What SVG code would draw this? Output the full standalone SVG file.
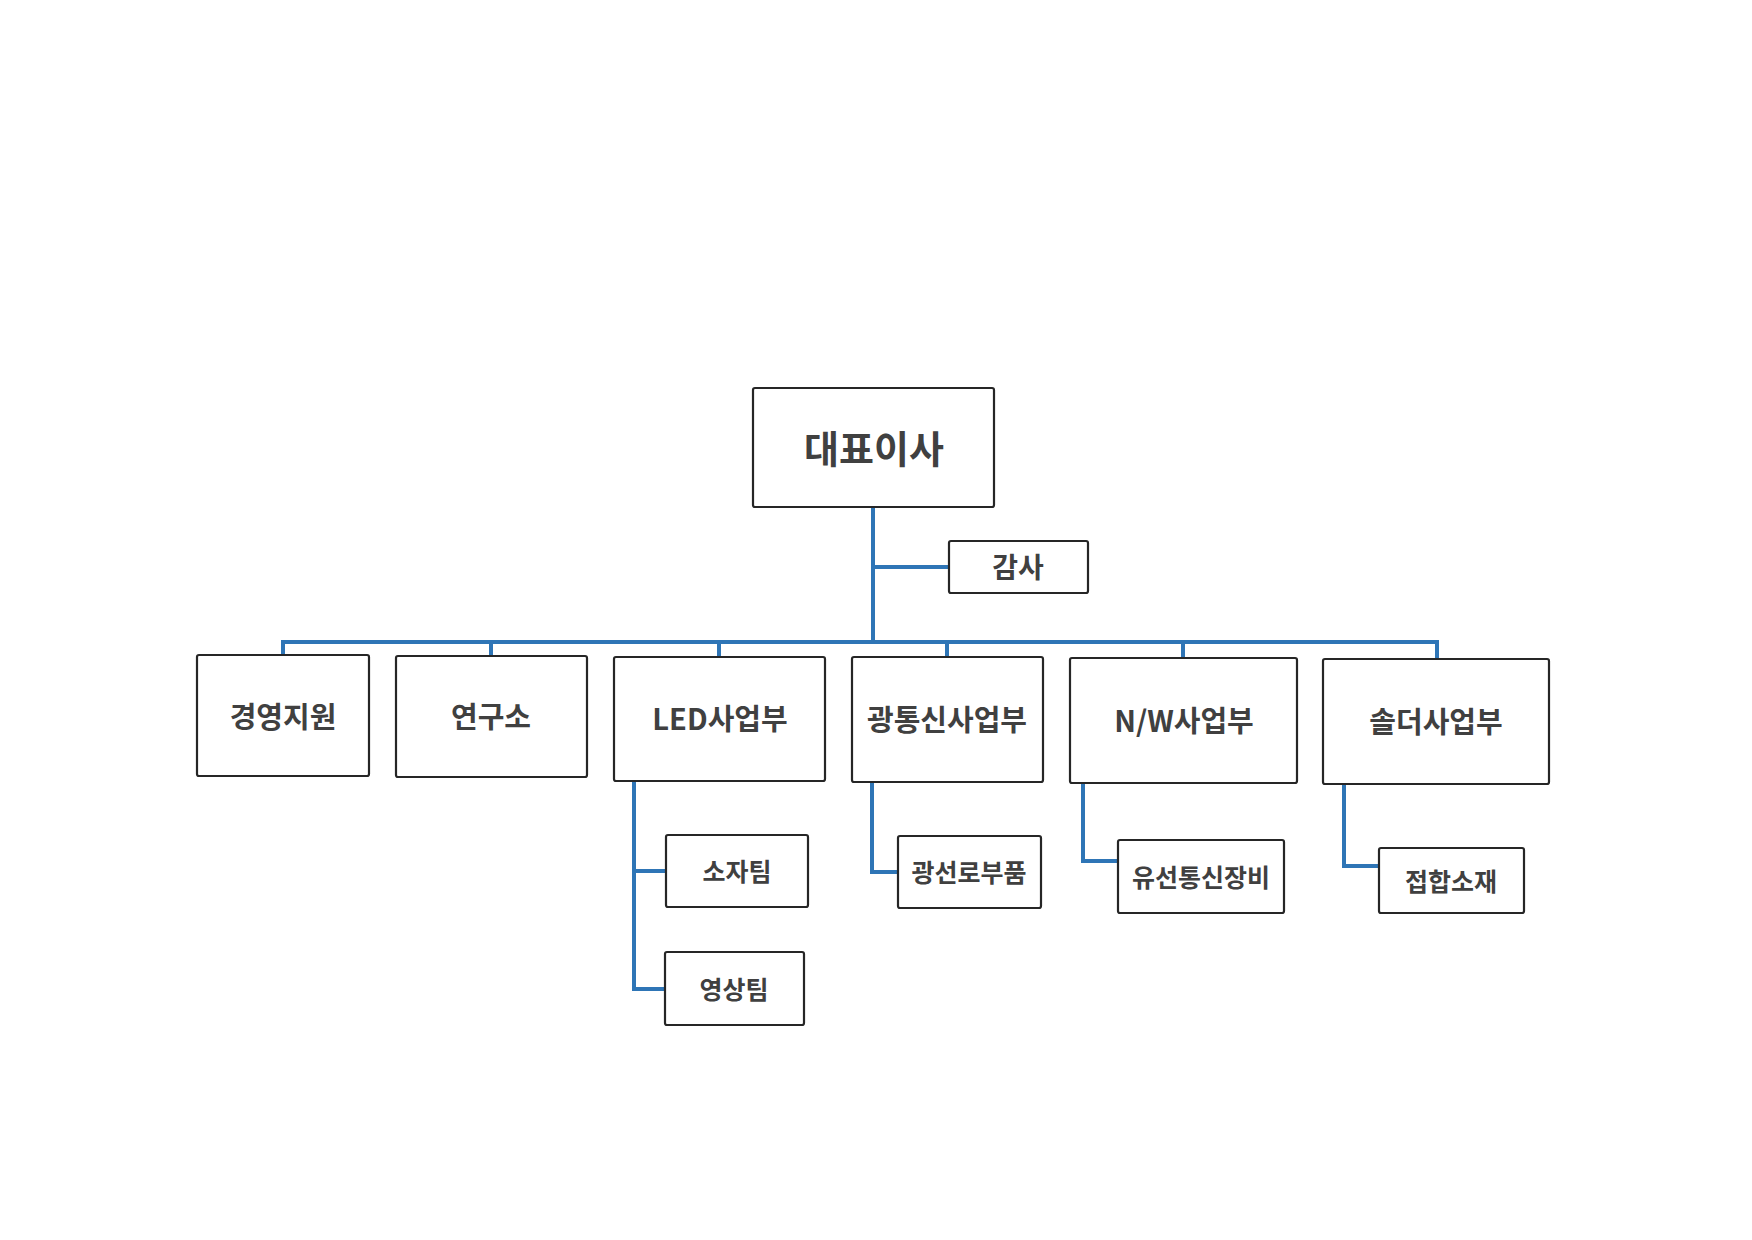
<svg xmlns="http://www.w3.org/2000/svg" width="1752" height="1240" viewBox="0 0 1752 1240">
<style>
.box{fill:#fff;stroke:#262626;stroke-width:2.2}
.t{font-family:"Noto Sans CJK KR","Noto Sans",sans-serif;font-weight:bold;fill:#404040;text-anchor:middle;dominant-baseline:central}
.c{fill:none;stroke:#2e75b6;stroke-width:4;stroke-linejoin:miter}
</style>
<rect width="1752" height="1240" fill="#fff"/>
<g id="connectors">
<path class="c" d="M873 507 V643"/>
<path class="c" d="M873 567 H949"/>
<path class="c" d="M283 656 V642 H1437 V659"/>
<path class="c" d="M491 642 V656"/>
<path class="c" d="M719 643 V657"/>
<path class="c" d="M947 643 V657"/>
<path class="c" d="M1183 644 V658"/>
<path class="c" d="M634 781 V989 H665"/>
<path class="c" d="M634 871 H666"/>
<path class="c" d="M872 782 V872 H898"/>
<path class="c" d="M1083 783 V861 H1118"/>
<path class="c" d="M1344 784 V866 H1379"/>
</g>
<g id="ceo"><rect class="box" x="753" y="388" width="241" height="119" rx="2"/><text class="t" x="874" y="446" font-size="38">대표이사</text></g>
<g id="audit"><rect class="box" x="949" y="541" width="139" height="52" rx="2"/><text class="t" x="1018" y="566" font-size="28">감사</text></g>
<g id="mgmt"><rect class="box" x="197" y="655" width="172" height="121" rx="2"/><text class="t" x="283" y="715" font-size="29">경영지원</text></g>
<g id="lab"><rect class="box" x="396" y="656" width="191" height="121" rx="2"/><text class="t" x="491" y="715" font-size="29">연구소</text></g>
<g id="led"><rect class="box" x="614" y="657" width="211" height="124" rx="2"/><text class="t" x="720" y="717" font-size="29">LED사업부</text></g>
<g id="optical"><rect class="box" x="852" y="657" width="191" height="125" rx="2"/><text class="t" x="947" y="718" font-size="29">광통신사업부</text></g>
<g id="nw"><rect class="box" x="1070" y="658" width="227" height="125" rx="2"/><text class="t" x="1184" y="719" font-size="29">N/W사업부</text></g>
<g id="solder"><rect class="box" x="1323" y="659" width="226" height="125" rx="2"/><text class="t" x="1436" y="720" font-size="29">솔더사업부</text></g>
<g id="device"><rect class="box" x="666" y="835" width="142" height="72" rx="2"/><text class="t" x="737" y="870" font-size="25">소자팀</text></g>
<g id="video"><rect class="box" x="665" y="952" width="139" height="73" rx="2"/><text class="t" x="734" y="988" font-size="25">영상팀</text></g>
<g id="fiber"><rect class="box" x="898" y="836" width="143" height="72" rx="2"/><text class="t" x="969" y="871" font-size="25">광선로부품</text></g>
<g id="wired"><rect class="box" x="1118" y="840" width="166" height="73" rx="2"/><text class="t" x="1201" y="876" font-size="25">유선통신장비</text></g>
<g id="bond"><rect class="box" x="1379" y="848" width="145" height="65" rx="2"/><text class="t" x="1451" y="880" font-size="25">접합소재</text></g>
</svg>
